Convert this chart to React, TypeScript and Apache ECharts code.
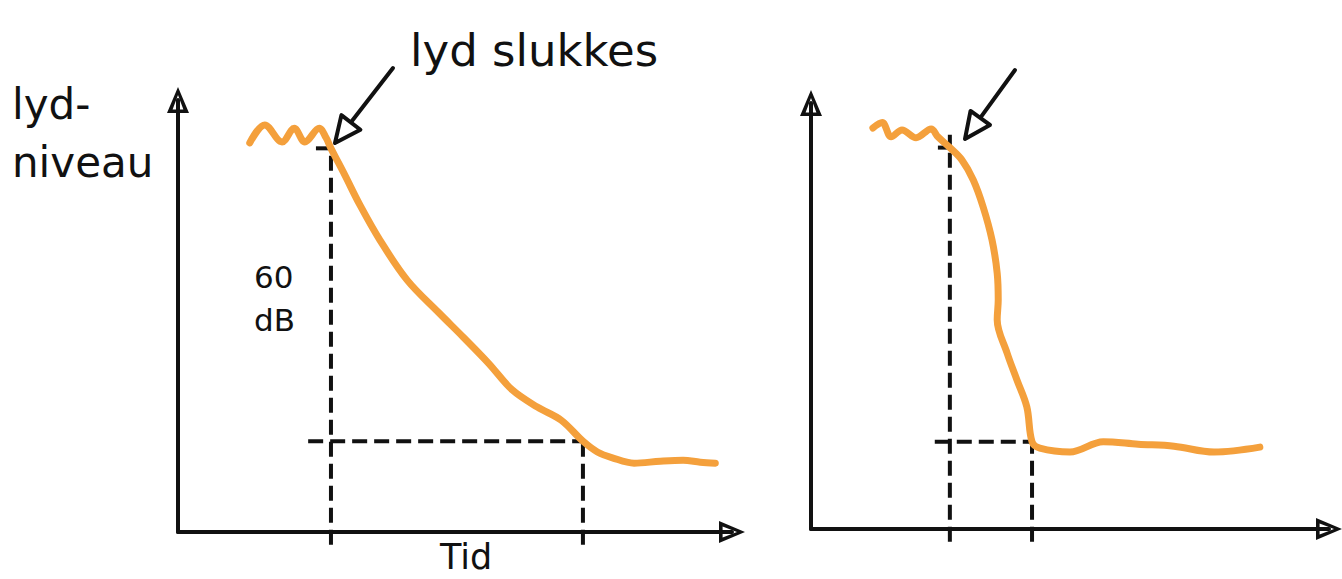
import React, { useEffect, useRef } from "react";
import * as echarts from "echarts";

// ---- Data (time units, sound level in dB) ----
// Left panel: slow decay
const leftTime = [12.9, 15.6, 18.7, 20.9, 22.8, 25.4, 26.6, 27.5, 30.0, 32.7, 36.3, 41.2, 46.9, 51.3, 55.8, 60.1, 64.6, 68.9, 72.8, 75.4, 78.1, 82.0, 86.7, 90.8, 93.9, 96.6];
const leftLevel = [79.7, 83.4, 79.9, 82.7, 79.9, 82.7, 80.8, 78.6, 73.1, 67.0, 59.8, 51.6, 44.9, 39.9, 34.6, 29.1, 25.6, 22.9, 18.6, 16.4, 15.2, 14.1, 14.5, 14.7, 14.3, 14.1];
// Right panel: fast decay
const rightTime = [11.9, 13.7, 15.4, 17.5, 20.2, 23.1, 24.4, 26.7, 29.0, 31.2, 33.1, 34.8, 35.8, 36.0, 35.8, 37.7, 39.6, 41.5, 42.5, 44.0, 49.8, 56.2, 62.9, 69.8, 77.5, 86.3];
const rightLevel = [81.8, 82.9, 80.0, 81.4, 79.8, 81.6, 80.0, 77.8, 75.3, 71.2, 65.7, 59.0, 52.2, 46.7, 42.7, 35.9, 30.4, 24.9, 17.8, 16.5, 15.7, 17.8, 17.3, 16.9, 15.7, 16.7];

// Guide values
const leftOffTime = 27.5;
const leftStartLevel = 78.6;
const leftEndTime = 72.8;
const leftEndLevel = 18.6;
const leftHStart = 23.4;
const leftTickStart = 24.8;

const rightOffTime = 26.7;
const rightStartLevel = 77.8;
const rightEndTime = 42.5;
const rightEndLevel = 17.8;
const rightHStart = 23.8;
const rightTickStart = 24.4;
const rightVTop = 80.4;

const floorLevel = -2.6;

// Texts
const yLabel = ["lyd-", "niveau"];
const offLabel = "lyd slukkes";
const dbLabel = ["60", "dB"];
const timeLabel = "Tid";

const ORANGE = "#F4A03C";
const INK = "#111111";
const FONT = "'DejaVu Sans', sans-serif";
const ARROW_PATH = "path://M11 0 L22 26 L0 26 Z M11 8 L5.6 22.4 L16.4 22.4 Z";

function zip(xs: number[], ys: number[]) {
  return xs.map((x, i) => [x, ys[i]]);
}

function seg(idx: number, data: number[][], dashed: boolean) {
  return {
    type: "line",
    xAxisIndex: idx,
    yAxisIndex: idx,
    data,
    symbol: "none",
    clip: false,
    silent: true,
    z: 2,
    lineStyle: { color: INK, width: 4, type: dashed ? [15, 7] : "solid", cap: "butt" },
  };
}

function curve(idx: number, data: number[][]) {
  return {
    type: "line",
    xAxisIndex: idx,
    yAxisIndex: idx,
    data,
    symbol: "none",
    smooth: 0.35,
    clip: false,
    silent: true,
    z: 3,
    lineStyle: { color: ORANGE, width: 7, cap: "round", join: "round" },
  };
}

function axis(idx: number, max: number) {
  return {
    type: "value",
    gridIndex: idx,
    min: 0,
    max,
    axisLine: {
      show: true,
      onZero: true,
      symbol: ["none", ARROW_PATH],
      symbolSize: [22, 26],
      lineStyle: { color: INK, width: 4 },
    },
    axisTick: { show: false },
    axisLabel: { show: false },
    splitLine: { show: false },
  };
}

// hollow arrow annotation from start to tip (decoration)
function pointer(sx: number, sy: number, tx: number, ty: number) {
  const dx = tx - sx;
  const dy = ty - sy;
  const len = Math.sqrt(dx * dx + dy * dy);
  const ux = dx / len;
  const uy = dy / len;
  const px = -uy;
  const py = ux;
  const headLen = 26;
  const headHalf = 12;
  const bx = tx - ux * headLen;
  const by = ty - uy * headLen;
  return [
    {
      type: "line",
      shape: { x1: sx, y1: sy, x2: bx + ux * 4, y2: by + uy * 4 },
      style: { stroke: INK, lineWidth: 4, lineCap: "round" },
      z: 10,
    },
    {
      type: "polygon",
      shape: {
        points: [
          [tx, ty],
          [bx + px * headHalf, by + py * headHalf],
          [bx - px * headHalf, by - py * headHalf],
        ],
      },
      style: { fill: "#ffffff", stroke: INK, lineWidth: 4, lineJoin: "round" },
      z: 11,
    },
  ];
}

function txt(text: string, x: number, y: number, size: number, align = "left") {
  return {
    type: "text",
    x,
    y,
    z: 12,
    style: {
      text,
      fill: INK,
      fontSize: size,
      fontFamily: FONT,
      textAlign: align,
      textVerticalAlign: "middle",
    },
  };
}

export default function App() {
  const ref = useRef<HTMLDivElement>(null);

  useEffect(() => {
    if (!ref.current) return;
    const chart = echarts.init(ref.current, undefined, { renderer: "svg" });
    chart.setOption({
      animation: false,
      backgroundColor: "#ffffff",
      grid: [
        { left: 178, top: 100, width: 554, height: 432 },
        { left: 811, top: 103, width: 518, height: 426 },
      ],
      xAxis: [axis(0, 99.6), axis(1, 99.6)],
      yAxis: [axis(0, 88.5), axis(1, 86.9)],
      series: [
        curve(0, zip(leftTime, leftLevel)),
        seg(0, [[leftOffTime, floorLevel], [leftOffTime, leftStartLevel]], true),
        seg(0, [[leftTickStart, leftStartLevel], [leftOffTime, leftStartLevel]], false),
        seg(0, [[leftHStart, leftEndLevel], [leftEndTime, leftEndLevel]], true),
        seg(0, [[leftEndTime, floorLevel], [leftEndTime, leftEndLevel]], true),
        curve(1, zip(rightTime, rightLevel)),
        seg(1, [[rightOffTime, floorLevel], [rightOffTime, rightVTop]], true),
        seg(1, [[rightTickStart, rightStartLevel], [rightOffTime, rightStartLevel]], false),
        seg(1, [[rightHStart, rightEndLevel], [rightEndTime, rightEndLevel]], true),
        seg(1, [[rightEndTime, floorLevel], [rightEndTime, rightEndLevel]], true),
      ],
      graphic: [
        ...pointer(393, 68, 335, 143),
        ...pointer(1015, 70, 965, 139),
        txt(yLabel[0], 12, 104, 42),
        txt(yLabel[1], 12, 162, 42),
        txt(offLabel, 410, 50, 45),
        txt(dbLabel[0], 254, 277, 31),
        txt(dbLabel[1], 254, 320, 31),
        txt(timeLabel, 466, 557, 35, "center"),
      ],
    });
    return () => chart.dispose();
  }, []);

  return (
    <div
      ref={ref}
      style={{ position: "fixed", left: 0, top: 0, width: 1342, height: 579, background: "#fff" }}
    />
  );
}
